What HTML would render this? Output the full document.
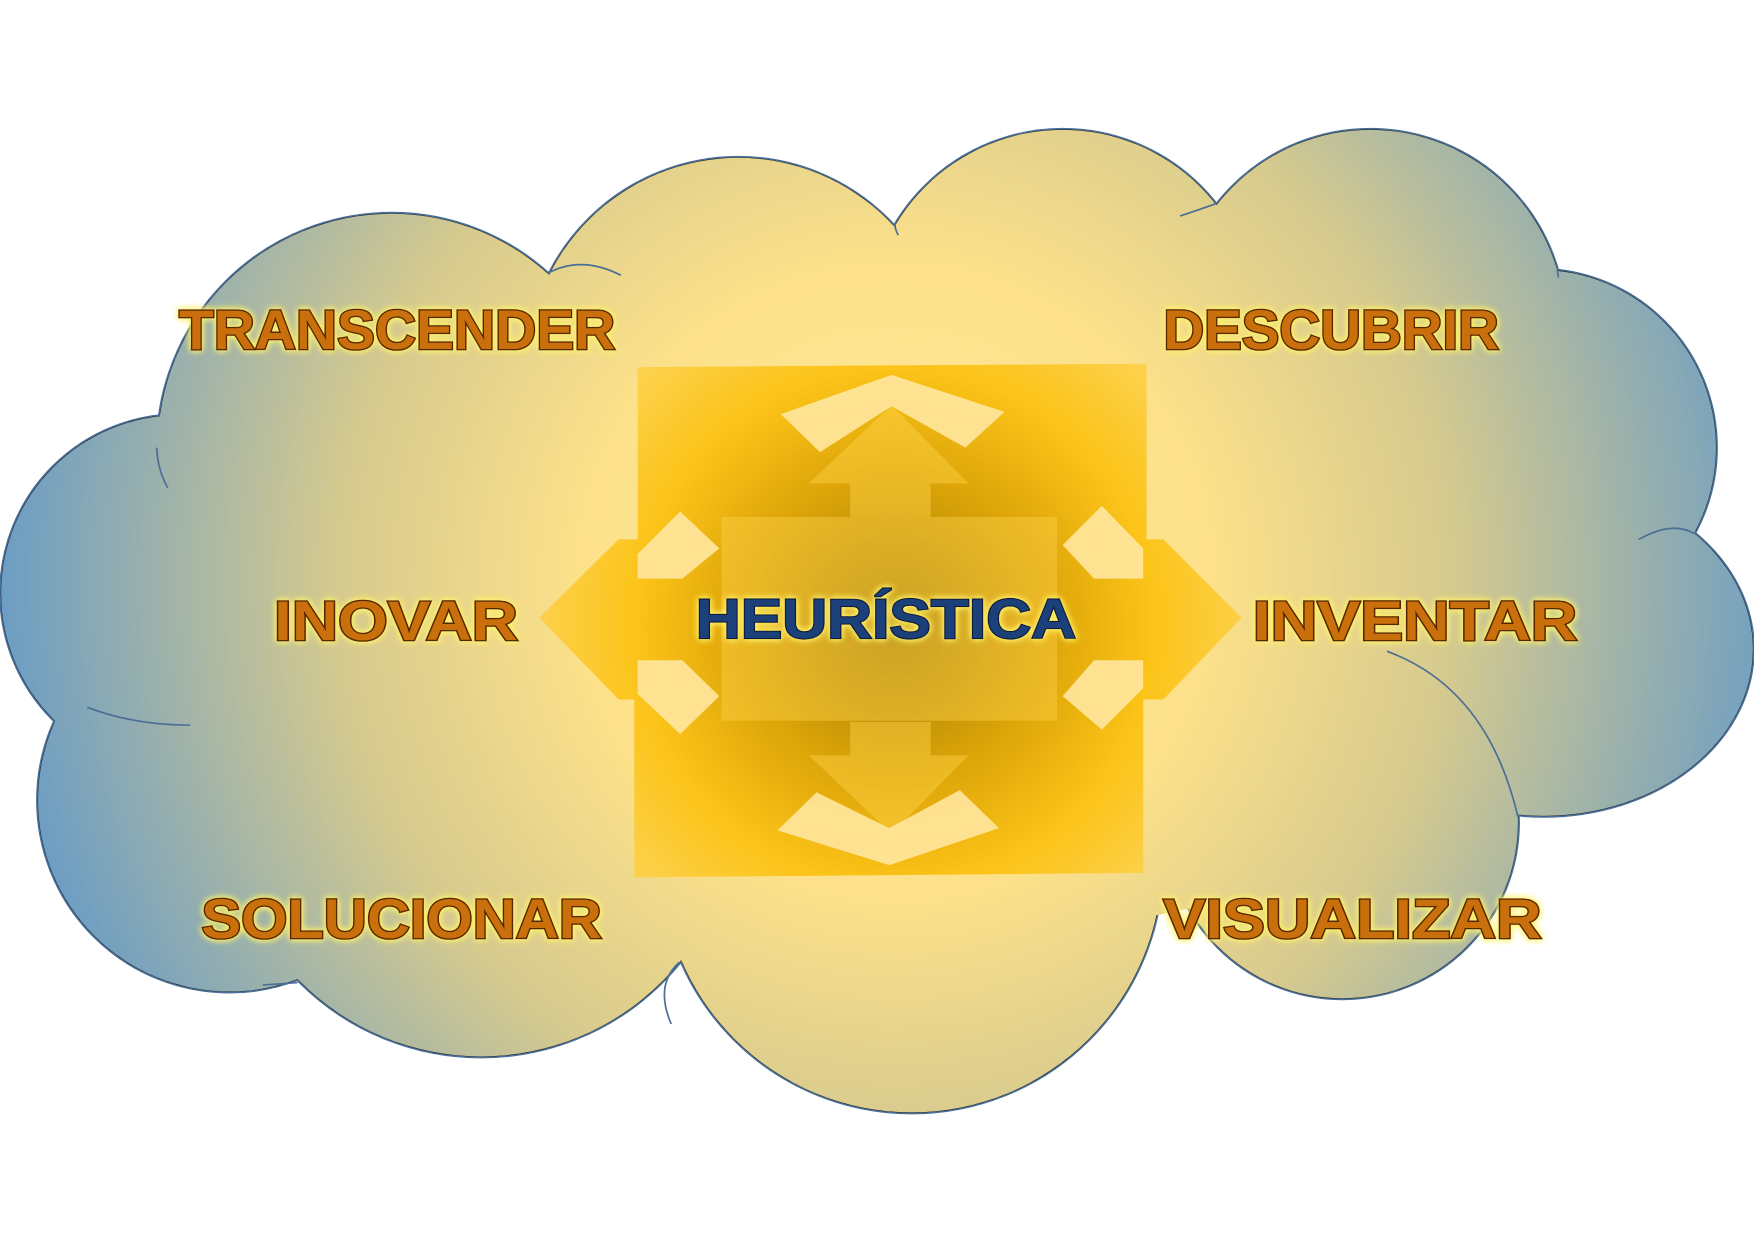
<!DOCTYPE html>
<html><head><meta charset="utf-8"><style>
html,body{margin:0;padding:0;background:#fff;width:1754px;height:1240px;overflow:hidden}
svg{display:block}
text{font-family:"Liberation Sans",sans-serif;font-weight:bold;font-size:50px;}
</style></head><body>
<svg width="1754" height="1240" viewBox="0 0 1568 1108" preserveAspectRatio="none">
<defs>
<radialGradient id="cg" gradientUnits="userSpaceOnUse" cx="800" cy="520" r="800">
<stop offset="0" stop-color="#ffeaa0"/>
<stop offset="0.35" stop-color="#fde18a"/>
<stop offset="0.62" stop-color="#d6ca8e"/>
<stop offset="1" stop-color="#6c9dc4"/>
</radialGradient>
<radialGradient id="ag" gradientUnits="userSpaceOnUse" cx="800" cy="560" r="330">
<stop offset="0" stop-color="#9a7500"/>
<stop offset="0.4" stop-color="#d9a000"/>
<stop offset="0.7" stop-color="#fcc212"/>
<stop offset="1" stop-color="#fdd250"/>
</radialGradient>
<filter id="glow" x="-10%" y="-30%" width="120%" height="160%">
<feGaussianBlur in="SourceAlpha" stdDeviation="3" result="b"/>
<feFlood flood-color="#fff36a"/><feComposite in2="b" operator="in" result="g"/>
<feMerge><feMergeNode in="g"/><feMergeNode in="g"/><feMergeNode in="SourceGraphic"/></feMerge>
</filter>
</defs>
<g id="lobes" stroke="#4a6e96" stroke-width="1.5">
<circle cx="350" cy="400" r="210"/>
<circle cx="660" cy="330" r="190"/>
<circle cx="950" cy="290" r="175"/>
<circle cx="1225" cy="290" r="175"/>
<circle cx="1375" cy="400" r="160"/>
<ellipse cx="1380" cy="580" rx="188" ry="150"/>
<circle cx="1200" cy="735" r="158"/>
<circle cx="815" cy="770" r="225"/>
<circle cx="430" cy="715" r="230"/>
<circle cx="205" cy="715" r="172"/>
<circle cx="160" cy="530" r="160"/>
</g>
<g fill="url(#cg)">
<circle cx="350" cy="400" r="209"/>
<circle cx="660" cy="330" r="189"/>
<circle cx="950" cy="290" r="174"/>
<circle cx="1225" cy="290" r="174"/>
<circle cx="1375" cy="400" r="159"/>
<ellipse cx="1380" cy="580" rx="187" ry="149"/>
<circle cx="1200" cy="735" r="157"/>
<circle cx="815" cy="770" r="224"/>
<circle cx="430" cy="715" r="229"/>
<circle cx="205" cy="715" r="171"/>
<circle cx="160" cy="530" r="159"/>
<ellipse cx="800" cy="540" rx="620" ry="300"/>
</g>
<g fill="none" stroke="#4a6e96" stroke-width="1.5">
<path d="M140,400 Q141,420 150,436"/>
<path d="M78,632 Q120,648 170,648"/>
<path d="M490,244 Q520,228 555,246"/>
<path d="M800,200 Q800,205 803,210"/>
<path d="M1087,182 Q1070,188 1055,193"/>
<path d="M1392,241 Q1393,245 1393,248"/>
<path d="M1515,477 Q1495,465 1465,482"/>
<path d="M1240,582 Q1330,615 1357,730"/>
<path d="M607,860 Q585,880 600,915"/>
<path d="M266,878 Q240,880 235,880"/>
</g>
<g fill="url(#ag)" opacity="0.95">
<polygon points="570,328 1025,325 1025,482 1040,482 1110,552 1040,625 1022,625 1022,780 567,784 567,625 553,625 553,625 482,552 553,482 570,482"/>
</g>
<g fill="#ffd24a" opacity="0.45">
<polygon points="723,432 797,362 866,432 832,432 832,462 760,462 760,432"/>
<polygon points="723,675 760,675 760,645 832,645 832,675 866,675 797,745"/>
</g>
<g fill="#ffe7a0" opacity="0.9">
<polygon points="698,370 797,335 898,368 863,400 797,363 733,404"/>
<polygon points="695,742 730,708 795,740 858,706 893,740 795,773"/>
<polygon points="570,495 608,457 643,490 610,517 570,517"/>
<polygon points="950,487 985,452 1022,490 1022,517 978,517"/>
<polygon points="570,590 610,590 643,622 608,656 570,620"/>
<polygon points="950,622 978,590 1022,590 1022,615 985,652"/>
</g>
<g fill="#fcd04a" opacity="0.45">
<rect x="645" y="462" width="300" height="182"/>
</g>
<g stroke="#5a2800" stroke-width="2.5" paint-order="stroke" fill="#c9700a" filter="url(#glow)">
<text x="160" y="312" textLength="390" lengthAdjust="spacingAndGlyphs">TRANSCENDER</text>
<text x="1040" y="312" textLength="300" lengthAdjust="spacingAndGlyphs">DESCUBRIR</text>
<text x="245" y="572" textLength="218" lengthAdjust="spacingAndGlyphs">INOVAR</text>
<text x="1120" y="572" textLength="290" lengthAdjust="spacingAndGlyphs">INVENTAR</text>
<text x="180" y="838" textLength="358" lengthAdjust="spacingAndGlyphs">SOLUCIONAR</text>
<text x="1040" y="838" textLength="338" lengthAdjust="spacingAndGlyphs">VISUALIZAR</text>
</g>
<g stroke="#0c1a3a" stroke-width="2" paint-order="stroke" fill="#1f3f7a" filter="url(#glow)">
<text x="622" y="570" textLength="340" lengthAdjust="spacingAndGlyphs">HEURÍSTICA</text>
</g>
</svg>
</body></html>
